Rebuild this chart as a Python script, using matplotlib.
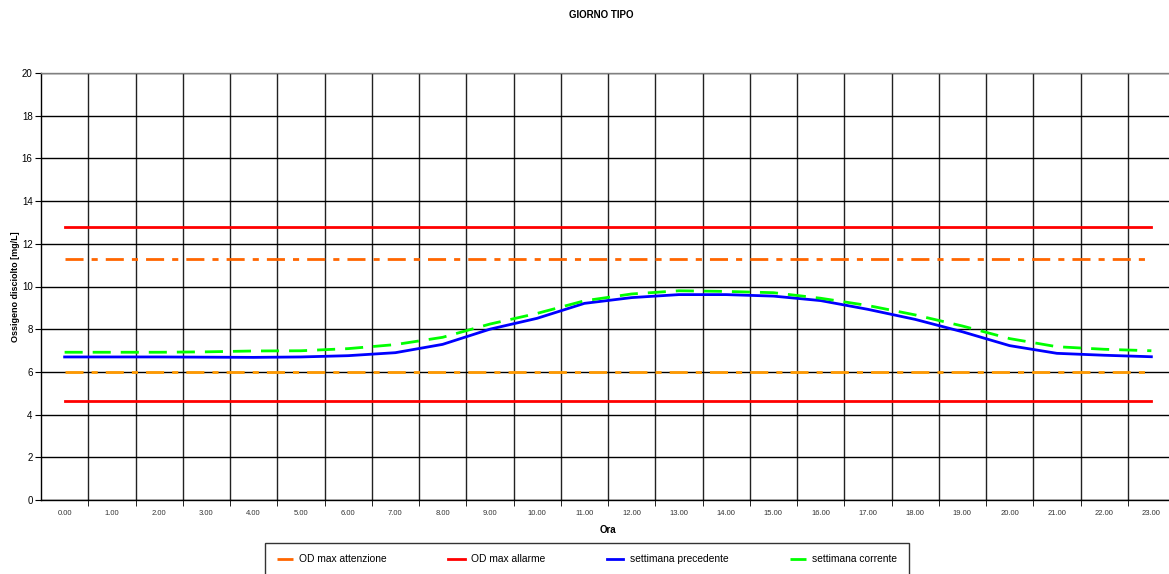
import matplotlib
matplotlib.use('Agg')
import matplotlib.pyplot as plt
import numpy as np

plt.rcParams['font.family'] = ['Liberation Sans', 'DejaVu Sans']

# hours of the day (categories)
ore = ['%d.00' % h for h in range(24)]

# threshold lines
od_allarme_max = [12.8] * 24
od_attenzione_max = [11.3] * 24
od_attenzione_min = [6.0] * 24
od_allarme_min = [4.65] * 24

# weekly means
settimana_precedente = [6.70, 6.70, 6.70, 6.69, 6.68, 6.70, 6.76, 6.90, 7.29, 8.00,
                        8.51, 9.21, 9.48, 9.62, 9.62, 9.55, 9.34, 8.93, 8.46, 7.88,
                        7.23, 6.87, 6.78, 6.71]
settimana_corrente = [6.92, 6.92, 6.92, 6.94, 6.98, 6.99, 7.09, 7.28, 7.62, 8.24,
                      8.74, 9.33, 9.65, 9.80, 9.77, 9.71, 9.45, 9.11, 8.67, 8.15,
                      7.56, 7.18, 7.06, 6.99]

x = np.arange(len(ore))

fig = plt.figure(figsize=(11.69, 5.74), dpi=100)
ax = fig.add_axes([41 / 1169, 1 - 500 / 574, 1134 / 1169, 427 / 574])

lw = 2
dashdot = (6.5, 2.9, 2.2, 2.9)
ax.plot(x, od_attenzione_max, color='#FF6600', lw=lw, dashes=dashdot, label='OD max attenzione', zorder=3)
ax.plot(x, od_allarme_max, color='#FF0000', lw=lw, label='OD max allarme', zorder=3)
ax.plot(x, od_attenzione_min, color='#FF9900', lw=lw, dashes=dashdot, zorder=3)
ax.plot(x, od_allarme_min, color='#FF0000', lw=lw, zorder=3)
ax.plot(x, settimana_precedente, color='#0000FF', lw=lw, label='settimana precedente', zorder=4)
ax.plot(x, settimana_corrente, color='#00FF00', lw=lw, dashes=(6.5, 3.6), label='settimana corrente', zorder=5)

ax.set_xlim(-0.5, 23.5)
ax.set_ylim(0, 20)
ax.set_yticks(np.arange(0, 21, 2))
ax.set_xticks(x)
ax.set_xticklabels(ore)
ax.set_xticks(np.arange(0.5, 23, 1), minor=True)
ax.tick_params(axis='x', which='major', length=0, labelsize=5.5, pad=7, colors='#333333')
ax.tick_params(axis='x', which='minor', length=4, direction='out', color='black')
ax.tick_params(axis='y', length=4, direction='out', labelsize=7, pad=2, colors='black')
ax.grid(axis='y', which='major', color='black', lw=1)
ax.grid(axis='x', which='minor', color='#222222', lw=1)
ax.set_axisbelow(True)
for s in ax.spines.values():
    s.set_color('#808080')
    s.set_linewidth(1)
ax.spines['bottom'].set_color('black')
ax.spines['left'].set_color('black')

ax.set_xlabel('Ora', fontsize=7, fontweight='bold', labelpad=6)
ax.set_ylabel('Ossigeno disciolto [mg/L]', fontsize=6.5, fontweight='bold', labelpad=1)
fig.text(601 / 1169, 1 - 15 / 574, 'GIORNO TIPO', fontsize=7, fontweight='bold', ha='center', va='center')

leg = fig.legend(loc='upper center', bbox_to_anchor=(587 / 1169, 1 - 538 / 574), ncol=4,
                 fontsize=7.4, frameon=True, fancybox=False, handlelength=1.6,
                 columnspacing=6.0, borderpad=1.1, handletextpad=0.6)
leg.get_frame().set_edgecolor('black')
leg.get_frame().set_linewidth(1)

fig.savefig('out.png', dpi=100)
